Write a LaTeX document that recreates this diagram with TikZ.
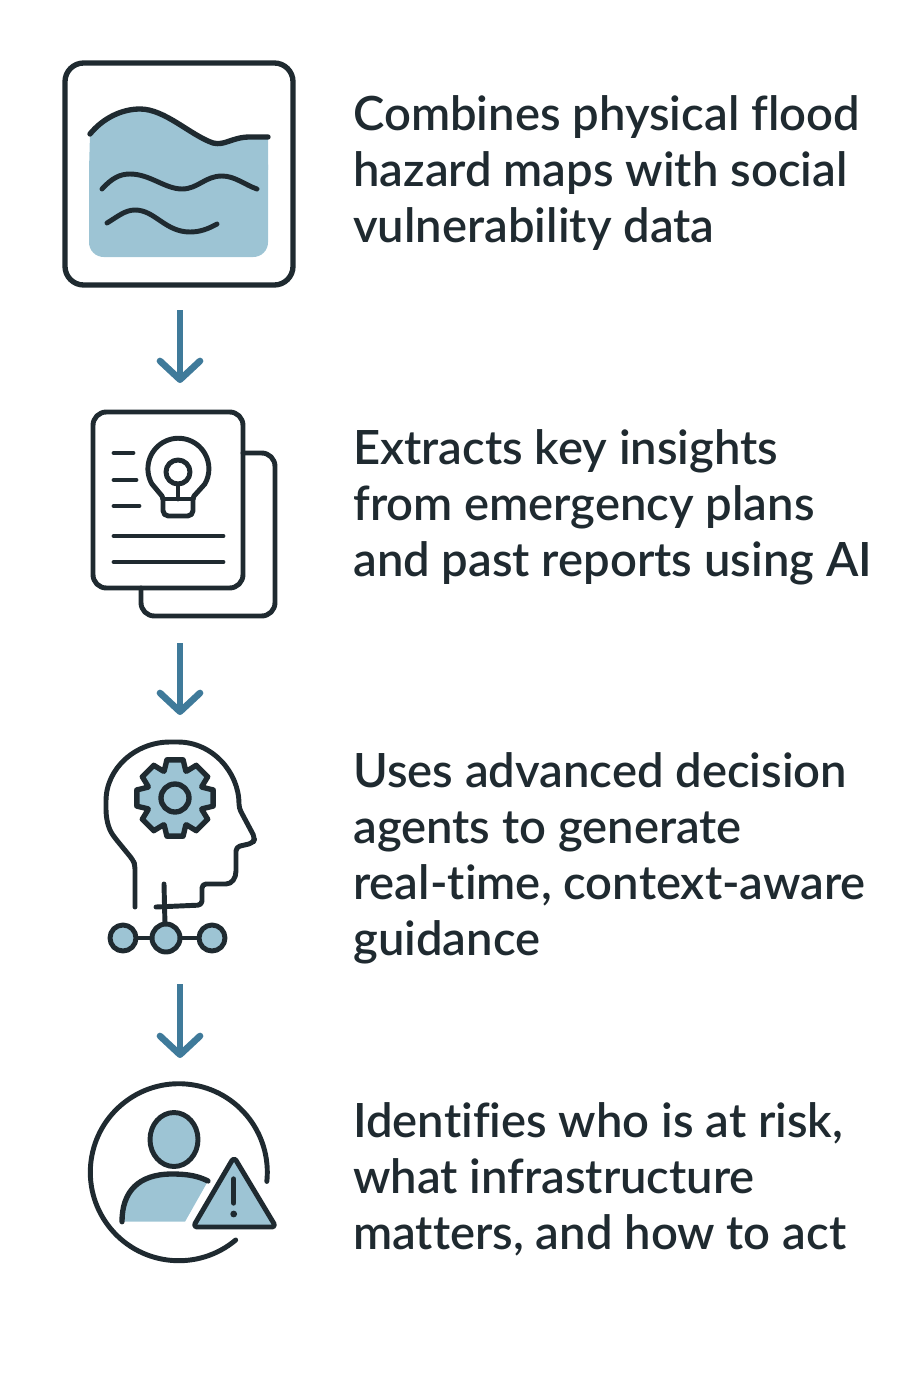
\documentclass[tikz,border=0pt]{standalone}
\usepackage{fontspec}
\setmainfont{Lato Semibold}[Ligatures=NoCommon, Kerning=On]
\usepackage{xcolor}
\usepackage{tikz}
\usetikzlibrary{arrows.meta}
\definecolor{inkdark}{HTML}{1F2A30}
\definecolor{waterblue}{HTML}{9DC4D4}
\definecolor{flowblue}{HTML}{3F7A9A}
\newcommand{\waterTop}{(90,134) .. controls (103,118) and (122,109) .. (140,109) .. controls (165,109) and (190,135) .. (213,143) .. controls (225,146) and (232,137) .. (250,137) -- (268,137)}
\newcommand{\bodyTop}{(122,1221.7) .. controls (122,1192) and (138,1174) .. (172,1174) .. controls (188,1174) and (198,1176) .. (208,1181)}
\tikzset{
    ink/.style={draw=inkdark, line width=4pt, line cap=round, line join=round},
    thinink/.style={draw=inkdark, line width=3.7pt, line cap=round, line join=round},
    flow/.style={draw=flowblue, line width=5pt, -{Straight Barb[round, length=14pt, width=30pt, line width=5pt]}},
    caption/.style={anchor=north west, align=left, inner sep=0pt, text=inkdark, font=\fontsize{35.4pt}{42pt}\selectfont}
}

\begin{document}
\begin{tikzpicture}[x=0.75pt, y=-0.75pt]
    \useasboundingbox (0,0) rectangle (920,1380);

    % Bản đồ lũ
    \fill[waterblue, rounded corners=11pt] (89,150) -- (89,257) -- (268,257) -- (268,150) -- cycle;
    \fill[waterblue] \waterTop -- (268,170) -- (89,170) -- cycle;
    \draw[ink, rounded corners=14pt] (65,63) rectangle (293,285);
    \draw[ink] \waterTop;
    \draw[thinink] (102,189) .. controls (112,178) and (120,174) .. (130,174) .. controls (150,174) and (165,189) .. (182,189) .. controls (198,189) and (205,176) .. (222,176) .. controls (235,176) and (245,185) .. (257,189);
    \draw[thinink] (107,223) .. controls (117,217) and (125,210) .. (135,210) .. controls (155,210) and (165,232) .. (190,232) .. controls (200,232) and (208,229) .. (217,224);

    % Tài liệu
    \draw[thinink, rounded corners=10pt] (243,453) -- (275,453) -- (275,616) -- (141,616) -- (141,588);
    \draw[thinink, rounded corners=10pt] (93,412) rectangle (243,588);
    \foreach \y/\xend in {453/133, 480/136, 506/139, 536/223, 562/223}
        \draw[thinink] (114,\y) -- (\xend,\y);
    \draw[thinink] (163,499) -- (162,496) -- (152,484) arc[start angle=150, end angle=390, radius=30.5] -- (194,496) -- (193,499);
    \draw[thinink, rounded corners=4pt] (163,499) -- (163,516) -- (193,516) -- (193,499);
    \draw[thinink] (163,499) -- (193,499);
    \draw[thinink] (178,472) circle (12);
    \draw[thinink] (178,484) -- (178,499);

    % Đầu người và bánh răng
    \draw[thinink, rounded corners=3pt] (135,907) -- (135,865) -- (133,860) -- (115,838)
        .. controls (108,828) and (106,818) .. (106,805)
        .. controls (106,768) and (136,742) .. (174,742)
        .. controls (212,742) and (239,772) .. (239,808)
        -- (255,838) -- (253,843) -- (236,847) -- (236,867)
        .. controls (236,878) and (232,884) .. (222,884)
        -- (202,884) -- (202,905) -- (156,907);
    \draw[thinink] (164,884) -- (165,925);
    \draw[thinink] (123,938) -- (212,938);
    \foreach \cx/\r in {123/13, 166/14, 212/13}
        \draw[thinink, fill=waterblue] (\cx,938) circle (\r);
    \begin{scope}[shift={(175,798)}]
        \draw[ink, fill=waterblue] (-22:29)
            \foreach \a in {0,45,...,315} { -- (\a-22:29) -- (\a-12:39) -- (\a+12:39) -- (\a+22:29) } -- cycle;
        \draw[ink, fill=waterblue] (0,0) circle (14);
    \end{scope}

    % Người và cảnh báo
    \draw[thinink] (235.7,1240) arc[start angle=50, end angle=366, radius=88.5];
    \draw[thinink, fill=waterblue] (174,1139.5) ellipse (24 and 27);
    \fill[waterblue] \bodyTop -- (185,1221.7) -- cycle;
    \draw[ink] \bodyTop;
    \draw[thinink, fill=waterblue, rounded corners=3pt] (234,1157) -- (276,1227) -- (193,1227) -- cycle;
    \draw[ink] (233.7,1179) -- (233.7,1203);
    \fill[inkdark] (233.7,1214) circle (3.4);

    % Mũi tên
    \coordinate (mapEnd) at (180,310);
    \coordinate (docStart) at (180,383);
    \coordinate (docEnd) at (180,643);
    \coordinate (headStart) at (180,715);
    \coordinate (headEnd) at (180,984);
    \coordinate (riskStart) at (180,1058);
    \draw[flow] (mapEnd) -- (docStart);
    \draw[flow] (docEnd) -- (headStart);
    \draw[flow] (headEnd) -- (riskStart);

    % Chú thích
    \node[caption] (capMap) at (353,95) {Combines physical flood\\hazard maps with social\\vulnerability data};
    \node[caption] (capDoc) at (353,429) {Extracts key insights\\from emergency plans\\and past reports using AI};
    \node[caption] (capHead) at (353,752) {Uses advanced decision\\agents to generate\\real-time, context-aware\\guidance};
    \node[caption] (capRisk) at (353,1102) {Identifies who is at risk,\\what infrastructure\\matters, and how to act};
\end{tikzpicture}
\end{document}
